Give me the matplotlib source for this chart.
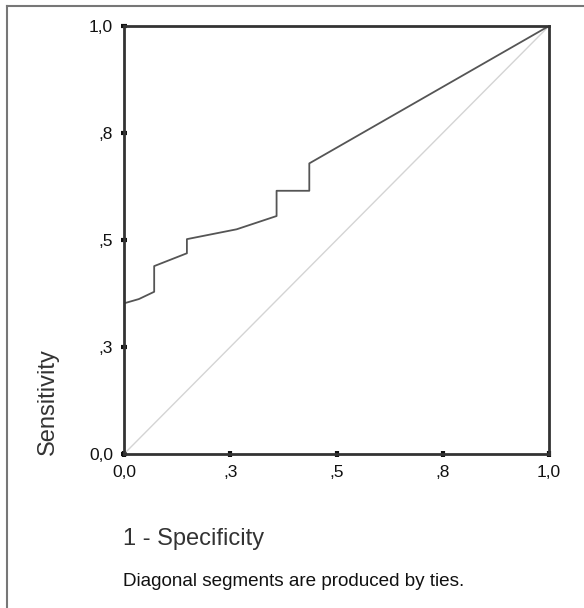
import matplotlib
matplotlib.use("Agg")
import matplotlib.pyplot as plt
from matplotlib.lines import Line2D

# ROC curve points (1 - specificity, sensitivity)
fpr = [0.0, 0.035, 0.071, 0.071, 0.148, 0.148, 0.265, 0.359, 0.359, 0.436, 0.436, 1.0]
tpr = [0.352, 0.362, 0.379, 0.439, 0.469, 0.502, 0.525, 0.556, 0.615, 0.615, 0.679, 1.0]

tick_vals = [0.0, 0.25, 0.5, 0.75, 1.0]
tick_labels = ["0,0", ",3", ",5", ",8", "1,0"]

W, H = 584, 608
fig = plt.figure(figsize=(W / 100, H / 100), dpi=100)
fig.patch.set_facecolor("white")

# axes box in pixels: left 124, right 549, top 26, bottom 454
ax = fig.add_axes([124 / W, 1 - 454 / H, (549 - 124) / W, (454 - 26) / H])

ax.plot([0, 1], [0, 1], color="#d4d4d4", lw=1.0)
ax.plot(fpr, tpr, color="#555555", lw=1.3)

ax.set_xlim(0, 1)
ax.set_ylim(0, 1)
ax.set_xticks(tick_vals)
ax.set_xticklabels(tick_labels)
ax.set_yticks(tick_vals)
ax.set_yticklabels(tick_labels)

for s in ax.spines.values():
    s.set_color("#333333")
    s.set_linewidth(2)

ax.tick_params(direction="inout", length=4, width=3, color="#111111",
               labelsize=12.5, labelcolor="#111111", pad=6)
for lab in ax.get_xticklabels() + ax.get_yticklabels():
    lab.set_family("Liberation Sans")

fig.text(48 / W, 1 - 455 / H, "Sensitivity", rotation=90, ha="center", va="bottom",
         fontsize=17, family="Liberation Sans", color="#333333")
fig.text(123 / W, 1 - 545 / H, "1 - Specificity", ha="left", va="baseline",
         fontsize=17, family="Liberation Sans", color="#333333")
fig.text(123 / W, 1 - 586 / H, "Diagonal segments are produced by ties.", ha="left",
         va="baseline", fontsize=13.6, family="Liberation Sans", color="#111111")

# outer frame (only top and left edges are inside the picture)
fig.add_artist(Line2D([7 / W, 7 / W], [0, 1 - 6 / H], transform=fig.transFigure,
                      color="#777777", lw=1.5))
fig.add_artist(Line2D([7 / W, 583 / W], [1 - 6 / H, 1 - 6 / H], transform=fig.transFigure,
                      color="#777777", lw=1.5))

fig.savefig("out.png", dpi=100, facecolor="white")
